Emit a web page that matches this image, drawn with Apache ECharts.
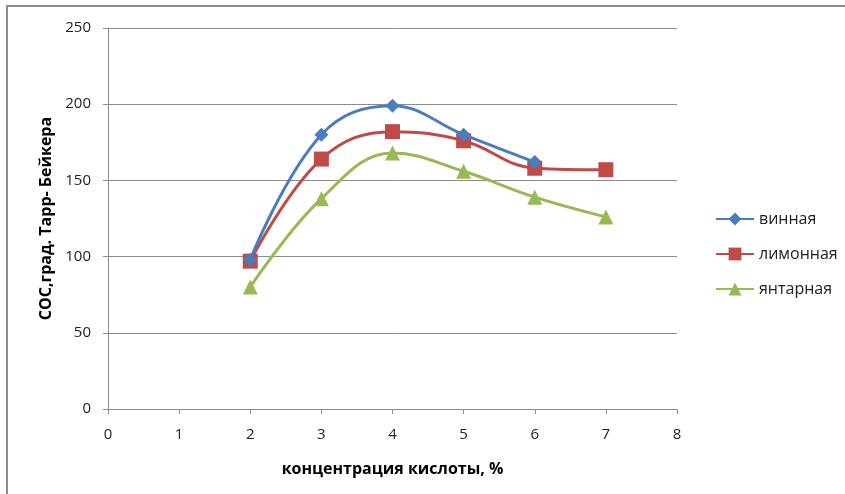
<!DOCTYPE html>
<html>
<head>
<meta charset="utf-8">
<script src="https://cdn.jsdelivr.net/npm/echarts@6/dist/echarts.min.js"></script>
<style>
  html, body { margin: 0; padding: 0; background: #fff; }
  #chart { width: 845px; height: 494px; }
</style>
</head>
<body>
<div id="chart"></div>
<script>
// Concentration of acid, % (x) vs. COC in Tarr-Baker degrees (y)
const seriesNames = ['винная', 'лимонная', 'янтарная'];
const xVinnaya = [2, 3, 4, 5, 6];
const yVinnaya = [98, 180, 199, 180, 162];
const xLimonnaya = [2, 3, 4, 5, 6, 7];
const yLimonnaya = [97, 164, 182, 176, 158, 157];
const xYantarnaya = [2, 3, 4, 5, 6, 7];
const yYantarnaya = [80, 138, 168, 156, 139, 126];

const colors = ['#4a7ebb', '#be4b48', '#98b954'];
const symbols = ['diamond', 'rect', 'triangle'];
const symbolSizes = [14, 15, 15];

function pairs(xs, ys) { return xs.map((x, i) => [x, ys[i]]); }
const dataSets = [
  pairs(xVinnaya, yVinnaya),
  pairs(xLimonnaya, yLimonnaya),
  pairs(xYantarnaya, yYantarnaya)
];

const font = '"Open Sans", "Noto Sans", sans-serif';
const chart = echarts.init(document.getElementById('chart'), null, { renderer: 'canvas' });

chart.setOption({
  backgroundColor: '#ffffff',
  animation: false,
  graphic: [{
    type: 'rect',
    shape: { x: 7, y: 6, width: 850, height: 500 },
    style: { fill: 'none', stroke: '#8c8c8c', lineWidth: 2 },
    silent: true
  }],
  grid: { left: 108, right: 168, top: 28, bottom: 85, containLabel: false },
  legend: {
    orient: 'vertical',
    left: 710,
    top: 206,
    itemGap: 19,
    itemWidth: 38,
    itemHeight: 16,
    textStyle: { fontFamily: font, fontSize: 16, color: '#222' },
    data: seriesNames
  },
  xAxis: {
    type: 'value',
    min: 0, max: 8, interval: 1,
    name: 'концентрация кислоты, %',
    nameLocation: 'middle',
    nameGap: 52,
    nameTextStyle: { fontFamily: font, fontSize: 16, fontWeight: 'bold', color: '#000' },
    axisLine: { show: true, onZero: false, lineStyle: { color: '#8c8c8c', width: 1 } },
    axisTick: { show: true, inside: false, length: 5, lineStyle: { color: '#8c8c8c' } },
    axisLabel: { fontFamily: font, fontSize: 15, color: '#222', margin: 18 },
    splitLine: { show: false }
  },
  yAxis: {
    type: 'value',
    min: 0, max: 250, interval: 50,
    name: 'СОС,град. Тарр- Бейкера',
    nameLocation: 'middle',
    nameGap: 54,
    nameRotate: 90,
    nameTextStyle: { fontFamily: font, fontSize: 16, fontWeight: 'bold', color: '#000' },
    axisLine: { show: true, lineStyle: { color: '#8c8c8c', width: 1 } },
    axisTick: { show: true, inside: false, length: 5, lineStyle: { color: '#8c8c8c' } },
    axisLabel: { fontFamily: font, fontSize: 15, color: '#222', margin: 17 },
    splitLine: { show: true, lineStyle: { color: '#8c8c8c', width: 1 } }
  },
  series: seriesNames.map((name, i) => ({
    name: name,
    type: 'line',
    data: dataSets[i],
    smooth: 0.4,
    symbol: symbols[i],
    symbolSize: symbolSizes[i],
    itemStyle: { color: colors[i] },
    lineStyle: { color: colors[i], width: 3 },
    z: 3 - i
  }))
});
</script>
</body>
</html>
